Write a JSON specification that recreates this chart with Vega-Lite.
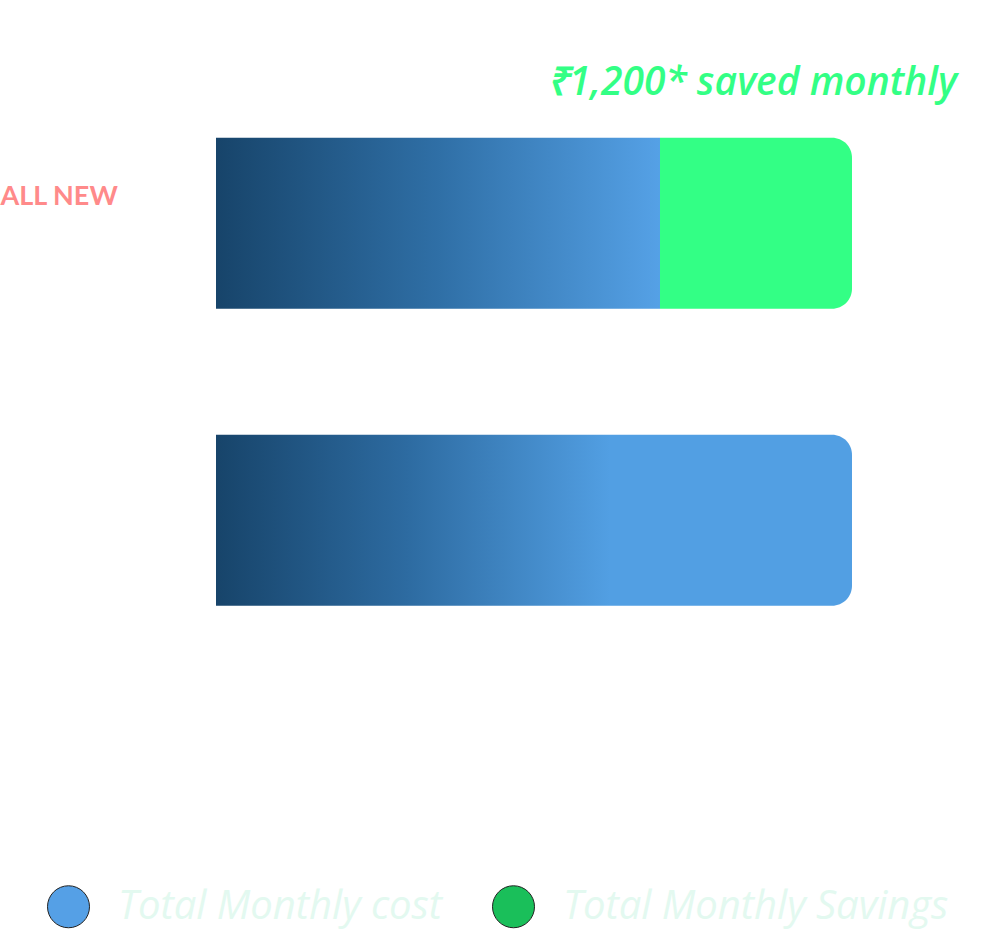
{
  "$schema": "https://vega.github.io/schema/vega-lite/v6.json",
  "width": 1005,
  "height": 945,
  "autosize": {"type": "fit", "contains": "padding"},
  "padding": 0,
  "background": "white",
  "config": {"view": {"stroke": null}},
  "data": {
    "values": [
      {"plan": "ALL NEW", "type": "Total Monthly cost", "amount": 2775, "order": 1, "note": ""},
      {"plan": "ALL NEW", "type": "Total Monthly Savings", "amount": 1200, "order": 2, "note": "₹1,200* saved monthly"},
      {"plan": "Others", "type": "Total Monthly cost", "amount": 3975, "order": 1, "note": ""}
    ]
  },
  "transform": [
    {"stack": "amount", "groupby": ["plan"], "sort": [{"field": "order", "order": "ascending"}], "as": ["x0", "x1"]}
  ],
  "encoding": {
    "y": {
      "field": "plan",
      "type": "nominal",
      "scale": {"domain": ["ALL NEW", "Others"], "paddingInner": 0.4242, "paddingOuter": 0.803, "align": 0.289},
      "axis": {
        "title": null, "domain": false, "ticks": false, "tickSize": 0, "grid": false,
        "labelAlign": "left", "labelPadding": 0, "labelOffset": -26,
        "labelExpr": "datum.value == 'ALL NEW' ? 'ALL NEW' : ''",
        "labelColor": "#ff8a8a", "labelFont": "Lato", "labelFontWeight": "bold", "labelFontSize": 27
      }
    }
  },
  "layer": [
    {
      "mark": {"type": "point", "filled": true, "shape": "circle"},
      "encoding": {
        "x": {"field": "x1", "type": "quantitative", "scale": {"domain": [-1350, 4931.25], "nice": false, "zero": false}, "axis": null},
        "color": {
          "field": "type", "type": "nominal",
          "scale": {"domain": ["Total Monthly cost", "Total Monthly Savings"], "range": ["#55a0e6", "#1abf5a"]},
          "legend": {
            "title": null, "orient": "none", "legendX": 47, "legendY": 885, "direction": "horizontal",
            "symbolSize": 1764, "symbolOpacity": 1, "symbolStrokeColor": "#222222", "symbolStrokeWidth": 1,
            "labelFont": "Open Sans", "labelFontStyle": "italic", "labelFontWeight": 400, "labelFontSize": 40, "labelColor": "#e3f9f0",
            "labelOffset": 28, "labelLimit": 600, "columnPadding": 47, "padding": 0
          }
        },
        "opacity": {"value": 0}
      }
    },
    {
      "transform": [{"filter": "datum.plan == 'ALL NEW' && datum.order == 1"}],
      "mark": {
        "type": "bar",
        "color": {"gradient": "linear", "x1": 0, "y1": 0, "x2": 1, "y2": 0,
          "stops": [{"offset": 0, "color": "#17446a"}, {"offset": 0.5, "color": "#2f6fa6"}, {"offset": 1, "color": "#55a1e6"}]}
      },
      "encoding": {
        "x": {"field": "x0", "type": "quantitative"},
        "x2": {"field": "x1"}
      }
    },
    {
      "transform": [{"filter": "datum.order == 2"}],
      "mark": {"type": "bar", "color": "#33ff85", "cornerRadiusTopRight": 20, "cornerRadiusBottomRight": 20},
      "encoding": {
        "x": {"field": "x0", "type": "quantitative"},
        "x2": {"field": "x1"}
      }
    },
    {
      "transform": [{"filter": "datum.plan == 'Others'"}],
      "mark": {
        "type": "bar", "cornerRadiusTopRight": 20, "cornerRadiusBottomRight": 20,
        "color": {"gradient": "linear", "x1": 0, "y1": 0, "x2": 1, "y2": 0,
          "stops": [{"offset": 0, "color": "#17446a"}, {"offset": 0.3, "color": "#2d6ba1"}, {"offset": 0.62, "color": "#529fe3"}, {"offset": 1, "color": "#529fe3"}]}
      },
      "encoding": {
        "x": {"field": "x0", "type": "quantitative"},
        "x2": {"field": "x1"}
      }
    },
    {
      "transform": [{"filter": "datum.order == 2"}],
      "mark": {"type": "text", "align": "right", "baseline": "middle", "dx": 105, "dy": -140,
        "font": "Open Sans", "fontStyle": "italic", "fontWeight": 600, "fontSize": 39, "color": "#33ff85"},
      "encoding": {
        "x": {"field": "x1", "type": "quantitative"},
        "text": {"field": "note"}
      }
    }
  ]
}
